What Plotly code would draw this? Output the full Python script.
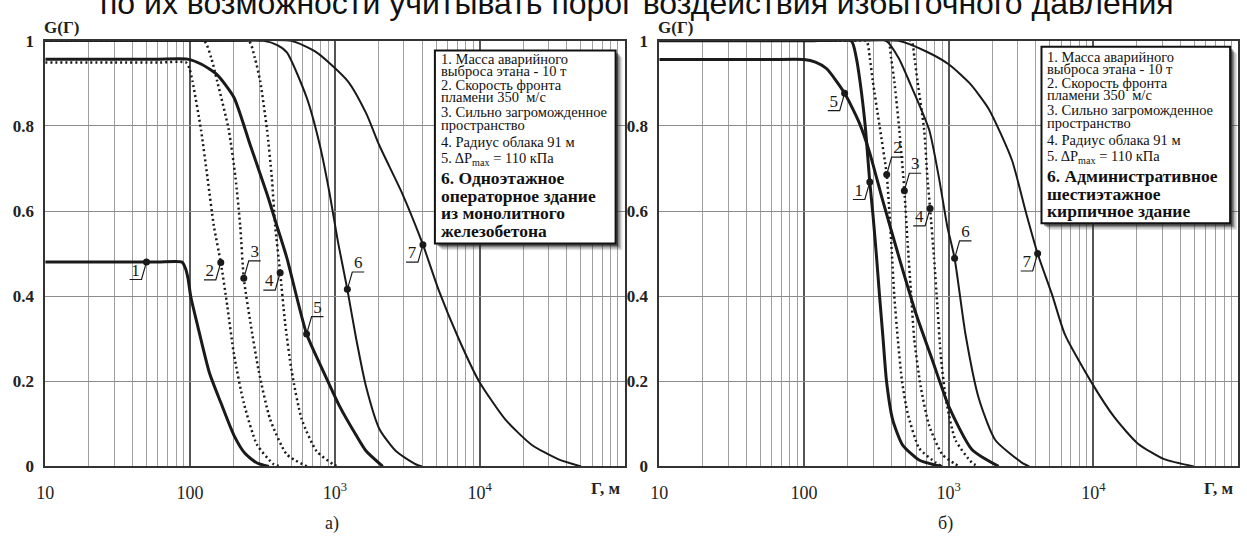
import numpy as np
import plotly.graph_objects as go

W, H = 1247, 542

# ---------------- панель а) : одноэтажное операторное здание ----------------
a1_x = [10, 30, 60, 88, 93, 97, 101, 112, 136, 163, 201, 240, 290, 350]
a1_y = [0.48, 0.48, 0.48, 0.48, 0.465, 0.44, 0.40, 0.335, 0.22, 0.15, 0.073, 0.03, 0.008, 0.0]

a2_x = [10, 30, 60, 94, 99, 104, 119, 132, 146, 163, 181, 201, 235, 290, 378, 420]
a2_y = [0.949, 0.949, 0.949, 0.949, 0.935, 0.905, 0.791, 0.678, 0.565, 0.479, 0.376, 0.263, 0.149, 0.051, 0.005, 0.0]

a3_x = [10, 30, 70, 125, 140, 154, 185, 206, 222, 235, 261, 298, 357, 466, 640]
a3_y = [1.0, 1.0, 1.0, 1.0, 0.96, 0.905, 0.791, 0.678, 0.565, 0.442, 0.338, 0.224, 0.111, 0.028, 0.0]

a4_x = [10, 40, 120, 254, 280, 305, 340, 367, 387, 419, 453, 503, 590, 747, 972, 1050]
a4_y = [1.0, 1.0, 1.0, 1.0, 0.96, 0.905, 0.791, 0.678, 0.565, 0.455, 0.338, 0.224, 0.111, 0.036, 0.005, 0.0]

a5_x = [10, 30, 60, 96, 120, 154, 201, 261, 340, 398, 466, 638, 830, 1079, 1403, 1643, 2140]
a5_y = [0.957, 0.957, 0.957, 0.957, 0.945, 0.92, 0.867, 0.754, 0.64, 0.565, 0.49, 0.311, 0.224, 0.141, 0.073, 0.036, 0.0]

a6_x = [10, 40, 130, 322, 400, 466, 638, 788, 921, 1051, 1219, 1403, 1643, 2029, 2637, 3610, 4000]
a6_y = [1.0, 1.0, 1.0, 1.0, 0.99, 0.973, 0.867, 0.754, 0.64, 0.527, 0.416, 0.3, 0.187, 0.088, 0.036, 0.005, 0.0]

a7_x = [10, 50, 200, 500, 747, 1230, 1643, 2029, 2930, 4055, 5224, 7160, 9820, 14960, 22800, 34700, 50100]
a7_y = [1.0, 1.0, 1.0, 1.0, 0.973, 0.905, 0.83, 0.754, 0.64, 0.521, 0.413, 0.3, 0.202, 0.111, 0.051, 0.017, 0.0]

a_lab_x = [50, 163, 235, 419, 638, 1219, 4055]
a_lab_y = [0.48, 0.479, 0.442, 0.455, 0.311, 0.416, 0.521]
a_lab_txt = ["1", "2", "3", "4", "5", "6", "7"]

a_note = [
    "1. Масса аварийного",
    "выброса этана - 10 т",
    "2. Скорость фронта",
    "пламени 350  м/с",
    "3. Сильно загроможденное",
    "пространство",
    "4. Радиус облака 91 м",
    "5. ΔP<sub>max</sub> = 110 кПа",
    "<b>6. Одноэтажное</b>",
    "<b>операторное здание</b>",
    "<b>из монолитного</b>",
    "<b>железобетона</b>",
]

# ---------------- панель б) : административное шестиэтажное здание ----------------
b1_x = [10, 40, 110, 212, 230, 245, 265, 285, 300, 316, 333, 352, 372, 410, 481, 625, 813, 900]
b1_y = [1.0, 1.0, 1.0, 1.0, 0.96, 0.9, 0.8, 0.668, 0.59, 0.5, 0.4, 0.3, 0.2, 0.11, 0.05, 0.015, 0.003, 0.0]

b2_x = [10, 40, 120, 269, 285, 299, 333, 373, 389, 405, 421, 445, 476, 520, 625, 813, 900]
b2_y = [1.0, 1.0, 1.0, 1.0, 0.96, 0.905, 0.8, 0.686, 0.6, 0.5, 0.4, 0.3, 0.2, 0.126, 0.043, 0.009, 0.0]

b3_x = [10, 40, 150, 379, 400, 421, 456, 494, 520, 548, 578, 641, 733, 904, 1114, 1200]
b3_y = [1.0, 1.0, 1.0, 1.0, 0.96, 0.905, 0.791, 0.648, 0.527, 0.413, 0.3, 0.187, 0.096, 0.028, 0.005, 0.0]

b4_x = [10, 50, 200, 548, 580, 609, 677, 713, 744, 793, 836, 881, 960, 1114, 1445, 1600]
b4_y = [1.0, 1.0, 1.0, 1.0, 0.96, 0.905, 0.791, 0.678, 0.606, 0.489, 0.376, 0.262, 0.155, 0.062, 0.009, 0.0]

b5_x = [10, 30, 60, 100, 120, 143, 191, 242, 284, 350, 456, 593, 771, 1005, 1452, 2213]
b5_y = [0.956, 0.956, 0.956, 0.956, 0.95, 0.935, 0.877, 0.806, 0.738, 0.625, 0.489, 0.36, 0.25, 0.14, 0.039, 0.0]

b6_x = [10, 40, 140, 369, 450, 533, 733, 857, 977, 1099, 1306, 1614, 2099, 3200, 3600]
b6_y = [1.0, 1.0, 1.0, 1.0, 0.96, 0.905, 0.791, 0.678, 0.565, 0.489, 0.311, 0.16, 0.062, 0.009, 0.0]

b7_x = [10, 50, 200, 450, 700, 1000, 1400, 1892, 2735, 3400, 4120, 5224, 6340, 9680, 14000, 20240, 30800, 49500]
b7_y = [1.0, 1.0, 1.0, 1.0, 0.975, 0.945, 0.9, 0.84, 0.72, 0.6, 0.5, 0.4, 0.311, 0.198, 0.115, 0.054, 0.017, 0.0]

b_lab_x = [285, 373, 494, 744, 191, 1099, 4120]
b_lab_y = [0.668, 0.686, 0.648, 0.606, 0.877, 0.489, 0.5]
b_lab_txt = ["1", "2", "3", "4", "5", "6", "7"]

b_note = [
    "1. Масса аварийного",
    "выброса этана - 10 т",
    "2. Скорость фронта",
    "пламени 350  м/с",
    "3. Сильно загроможденное",
    "пространство",
    "4. Радиус облака 91 м",
    "5. ΔP<sub>max</sub> = 110 кПа",
    "<b>6. Административное</b>",
    "<b>шестиэтажное</b>",
    "<b>кирпичное здание</b>",
]

x_tickvals = [10, 100, 1000, 10000]
x_ticktext = ["10", "100", "10<sup>3</sup>", "10<sup>4</sup>"]
y_tickvals = [0, 0.2, 0.4, 0.6, 0.8, 1.0]
y_ticktext = ["<b>0</b>", "<b>0.2</b>", "<b>0.4</b>", "<b>0.6</b>", "<b>0.8</b>", "<b>1</b>"]

top_line = "по их возможности учитывать порог воздействия избыточного давления"

# ---------------- geometry (pixels) ----------------
PLOT_TOP, PLOT_BOT = 33, 474
PANELS = {
    "a": dict(x0=36.5, x1=620.0),
    "b": dict(x0=655.0, x1=1238.0),
}
LOG_RANGE = [1, 5]

SERIF = "Liberation Serif, Times New Roman, serif"
INK = "#1a1a1a"

def px_x(p):
    return p / W

def px_y(p):
    return 1 - p / H

fig = go.Figure()

STYLE = {
    "1": dict(width=3.0, dash="solid"),
    "2": dict(width=2.5, dash="2px,3px"),
    "3": dict(width=2.5, dash="2px,3px"),
    "4": dict(width=2.5, dash="2px,3px"),
    "5": dict(width=3.0, dash="solid"),
    "6": dict(width=2.0, dash="solid"),
    "7": dict(width=2.0, dash="solid"),
}

curves = {
    "a": [("1", a1_x, a1_y), ("2", a2_x, a2_y), ("3", a3_x, a3_y), ("4", a4_x, a4_y),
          ("5", a5_x, a5_y), ("6", a6_x, a6_y), ("7", a7_x, a7_y)],
    "b": [("1", b1_x, b1_y), ("2", b2_x, b2_y), ("3", b3_x, b3_y), ("4", b4_x, b4_y),
          ("5", b5_x, b5_y), ("6", b6_x, b6_y), ("7", b7_x, b7_y)],
}
labels = {
    "a": (a_lab_x, a_lab_y, a_lab_txt, [-1, -1, 1, -1, 1, 1, -1]),
    "b": (b_lab_x, b_lab_y, b_lab_txt, [-1, 1, 1, -1, -1, 1, -1]),
}
axes = {"a": ("x", "y"), "b": ("x2", "y2")}

for key in ("a", "b"):
    xa, ya = axes[key]
    for name, xs, ys in curves[key]:
        st = STYLE[name]
        fig.add_trace(go.Scatter(
            x=xs, y=ys, mode="lines", xaxis=xa, yaxis=ya,
            line=dict(color=INK, width=st["width"], dash=st["dash"],
                      shape="spline", smoothing=0.6),
            hoverinfo="skip", showlegend=False,
        ))

    # leader lines with underlined curve numbers
    lx, ly, dirs = labels[key][0], labels[key][1], labels[key][3]
    dec_px = (PANELS[key]["x1"] - PANELS[key]["x0"]) / (LOG_RANGE[1] - LOG_RANGE[0])
    y_px = PLOT_BOT - PLOT_TOP
    seg_x, seg_y, tx, ty = [], [], [], []
    for x, y, d in zip(lx, ly, dirs):
        lg = np.log10(x)
        k1 = lg + d * 5 / dec_px
        k2 = lg + d * 17 / dec_px
        yy = y + d * 18 / y_px
        seg_x += [x, 10 ** k1, 10 ** k2, None]
        seg_y += [y, yy, yy, None]
        tx.append(10 ** ((k1 + k2) / 2))
        ty.append(yy + 8.5 / y_px)
    fig.add_trace(go.Scatter(
        x=seg_x, y=seg_y, mode="lines", xaxis=xa, yaxis=ya,
        line=dict(color=INK, width=1.2), hoverinfo="skip", showlegend=False,
    ))
    fig.add_trace(go.Scatter(
        x=lx, y=ly, mode="markers", xaxis=xa, yaxis=ya,
        marker=dict(color=INK, size=7), hoverinfo="skip", showlegend=False,
    ))
    fig.add_trace(go.Scatter(
        x=tx, y=ty, mode="text", text=labels[key][2], xaxis=xa, yaxis=ya,
        textfont=dict(family=SERIF, size=17, color=INK), textposition="middle center",
        cliponaxis=False, hoverinfo="skip", showlegend=False,
    ))

minor_vals = [m * 10 ** e for e in range(1, 5) for m in range(2, 10)]

def x_axis(key):
    p = PANELS[key]
    return dict(
        type="log", range=LOG_RANGE, domain=[px_x(p["x0"]), px_x(p["x1"])],
        tickmode="array", tickvals=x_tickvals, ticktext=x_ticktext,
        tickfont=dict(family=SERIF, size=18, color="#222"),
        ticks="", ticklabelstandoff=9,
        showgrid=True, gridcolor="#555555", gridwidth=1.5,
        minor=dict(tickvals=minor_vals, showgrid=True, gridcolor="#a0a0a0",
                   gridwidth=1.3, ticks=""),
        showline=True, linecolor="#333333", linewidth=1.8, mirror=True,
        zeroline=False,
    )

def y_axis(anchor):
    return dict(
        range=[0, 1], domain=[px_y(PLOT_BOT), px_y(PLOT_TOP)], anchor=anchor,
        tickmode="array", tickvals=y_tickvals, ticktext=y_ticktext,
        tickfont=dict(family=SERIF, size=17, color="#222"),
        ticks="", ticklabelstandoff=6,
        showgrid=True, gridcolor="#8c8c8c", gridwidth=1.2,
        showline=True, linecolor="#333333", linewidth=1.8, mirror=True,
        zeroline=False,
    )

fig.update_layout(
    width=W, height=H, margin=dict(l=0, r=0, t=0, b=0),
    paper_bgcolor="white", plot_bgcolor="white",
    xaxis=x_axis("a"), yaxis=y_axis("x"),
    xaxis2=x_axis("b"), yaxis2=y_axis("x2"),
    showlegend=False,
)

shapes, annotations = [], []

# parameter boxes with soft drop shadow
BOXES = {
    "a": dict(x0=429, y0=43, x1=611, y1=243, tx=433, ty=52, lines=a_note),
    "b": dict(x0=1040, y0=39, x1=1230, y1=222, tx=1044, ty=50, lines=b_note),
}
LINE_STEP = [0, 12.5, 27, 39, 55, 68.5, 85.5, 103.5, 123, 141.5, 159.5, 178]
for key, b in BOXES.items():
    for off, op in ((7, 0.12), (5.5, 0.2), (4, 0.35), (2.5, 0.5)):
        shapes.append(dict(type="rect", xref="paper", yref="paper", layer="above",
                           x0=px_x(b["x0"] + off), x1=px_x(b["x1"] + off),
                           y0=px_y(b["y1"] + off), y1=px_y(b["y0"] + off),
                           line=dict(width=0), fillcolor="#222", opacity=op))
    shapes.append(dict(type="rect", xref="paper", yref="paper", layer="above",
                       x0=px_x(b["x0"]), x1=px_x(b["x1"]),
                       y0=px_y(b["y1"]), y1=px_y(b["y0"]),
                       line=dict(color="#111", width=2), fillcolor="white"))
    for i, txt in enumerate(b["lines"]):
        bold = txt.startswith("<b>")
        annotations.append(dict(
            xref="paper", yref="paper", x=px_x(b["tx"]), y=px_y(b["ty"] + LINE_STEP[i]),
            xanchor="left", yanchor="middle", text=txt, showarrow=False,
            font=dict(family=SERIF, size=17.5 if bold else 14.5, color="#111"),
        ))

# axis captions and panel letters
for key, letter in (("a", "а)"), ("b", "б)")):
    p = PANELS[key]
    annotations.append(dict(xref="paper", yref="paper", x=px_x(p["x0"] + 16), y=px_y(19),
                            xanchor="center", yanchor="middle", text="<b>G(Г)</b>",
                            showarrow=False, font=dict(family=SERIF, size=17, color="#222")))
    annotations.append(dict(xref="paper", yref="paper", x=px_x(p["x1"] - 36), y=px_y(497),
                            xanchor="left", yanchor="middle", text="<b>Г, м</b>",
                            showarrow=False, font=dict(family=SERIF, size=17, color="#222")))
    annotations.append(dict(xref="paper", yref="paper", x=px_x((p["x0"] + p["x1"]) / 2 - 3),
                            y=px_y(533), xanchor="center", yanchor="middle", text=letter,
                            showarrow=False, font=dict(family=SERIF, size=18, color="#222")))

# running text line above the figure (only its lower part falls on the page)
annotations.append(dict(xref="paper", yref="paper", x=px_x(90), y=px_y(-6),
                        xanchor="left", yanchor="middle", text=top_line, showarrow=False,
                        font=dict(family="Liberation Sans, Arial, sans-serif", size=32,
                                  color="#111")))

fig.update_layout(shapes=shapes, annotations=annotations)
fig.write_html("out.html")
